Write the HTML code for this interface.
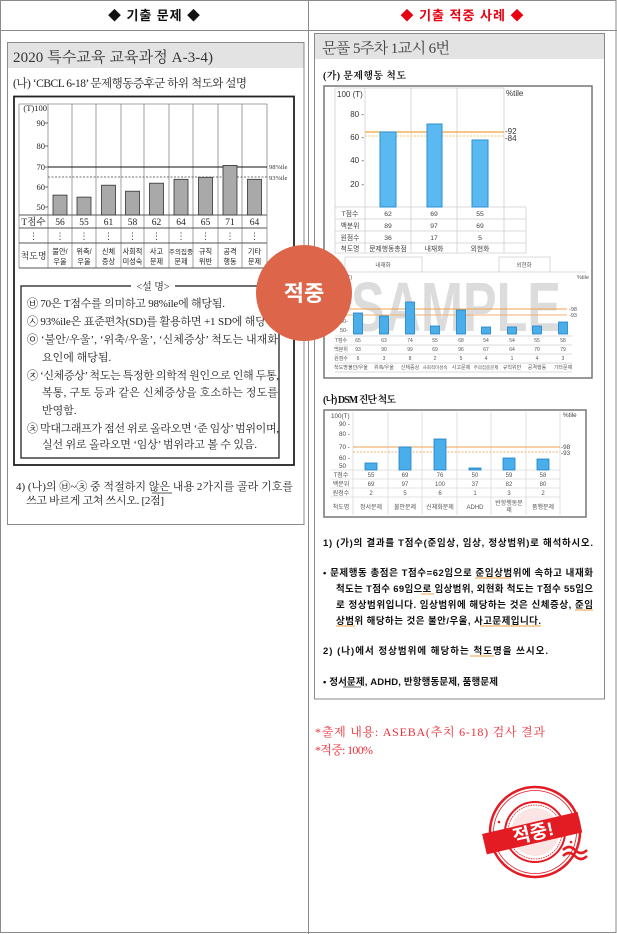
<!DOCTYPE html>
<html><head><meta charset="utf-8">
<style>
html,body{margin:0;padding:0;background:#fff;}
svg{display:block;}
.sf{font-family:"Liberation Serif","Noto Serif CJK SC",serif;}
.ss{font-family:"Liberation Sans","Noto Sans CJK KR",sans-serif;}
.dj{font-family:"DejaVu Sans",sans-serif;}
</style></head><body>
<svg width="617" height="934" viewBox="0 0 617 934" xmlns="http://www.w3.org/2000/svg">
<!-- frame -->
<rect x="0.5" y="0.5" width="615.5" height="932" fill="#fff" stroke="#8a8a8a"/>
<line x1="0" y1="30.5" x2="617" y2="30.5" stroke="#8a8a8a"/>
<line x1="308.5" y1="0" x2="308.5" y2="934" stroke="#8a8a8a"/>
<text x="154" y="20" text-anchor="middle" class="ss" font-size="13" font-weight="bold" fill="#111" textLength="92">◆ 기출 문제 ◆</text>
<text x="462" y="20" text-anchor="middle" class="ss" font-size="13" font-weight="bold" fill="#e60012" textLength="123">◆ 기출 적중 사례 ◆</text>

<!-- LEFT -->
<rect x="7.5" y="42.5" width="296.5" height="482" fill="none" stroke="#8a8a8a"/>
<rect x="8" y="43" width="295.5" height="25" fill="#e3e3e3"/>
<text x="13" y="62" class="sf" font-size="15" fill="#333" textLength="200">2020 특수교육 교육과정 A-3-4)</text>
<text x="13" y="87" class="sf" font-size="11.5" fill="#222" textLength="234">(나) ‘CBCL 6-18’ 문제행동증후군 하위 척도와 설명</text>

<rect x="14" y="96.5" width="280" height="368.5" fill="none" stroke="#222" stroke-width="1.8"/>
<g stroke="#888" stroke-width="0.8">
<line x1="19" y1="104" x2="267" y2="104"/>
<line x1="19" y1="104" x2="19" y2="268"/>
<line x1="48" y1="104" x2="48" y2="268"/>
<line x1="72" y1="104" x2="72" y2="268"/>
<line x1="96" y1="104" x2="96" y2="268"/>
<line x1="121" y1="104" x2="121" y2="268"/>
<line x1="144" y1="104" x2="144" y2="268"/>
<line x1="169" y1="104" x2="169" y2="268"/>
<line x1="193" y1="104" x2="193" y2="268"/>
<line x1="218" y1="104" x2="218" y2="268"/>
<line x1="242" y1="104" x2="242" y2="268"/>
<line x1="267" y1="104" x2="267" y2="268"/>
</g>
<g stroke="#555" stroke-width="0.9">
<line x1="19" y1="215" x2="267" y2="215"/>
<line x1="19" y1="228" x2="267" y2="228"/>
<line x1="19" y1="243" x2="267" y2="243"/>
<line x1="19" y1="268" x2="267" y2="268"/>
</g>
<g class="sf" font-size="8.5" fill="#222" text-anchor="end">
<text x="47" y="111">(T)100</text>
<text x="45" y="126">90</text>
<text x="45" y="149">80</text>
<text x="45" y="170">70</text>
<text x="45" y="190">60</text>
<text x="45" y="210">50</text>
</g>
<g stroke="#333" stroke-width="0.7">
<line x1="45" y1="123" x2="48" y2="123"/><line x1="45" y1="146" x2="48" y2="146"/>
<line x1="45" y1="167" x2="48" y2="167"/><line x1="45" y1="187" x2="48" y2="187"/>
<line x1="45" y1="207" x2="48" y2="207"/>
</g>
<line x1="48" y1="167" x2="267" y2="167" stroke="#111" stroke-width="1"/>
<line x1="48" y1="177" x2="267" y2="177" stroke="#444" stroke-width="0.8" stroke-dasharray="2,1.5"/>
<text x="269" y="169" class="sf" font-size="6.5" fill="#333">98%ile</text>
<text x="269" y="180" class="sf" font-size="6.5" fill="#333">93%ile</text>
<g fill="#a9a9a9" stroke="#333" stroke-width="0.8">
<rect x="53" y="195.1" width="14" height="19.9"/>
<rect x="77" y="197.1" width="14" height="17.9"/>
<rect x="101.5" y="185.2" width="14" height="29.8"/>
<rect x="125.5" y="191.2" width="14" height="23.8"/>
<rect x="149.5" y="183.2" width="14" height="31.8"/>
<rect x="174" y="179.3" width="14" height="35.7"/>
<rect x="198.5" y="177.3" width="14" height="37.7"/>
<rect x="223" y="165.4" width="14" height="49.6"/>
<rect x="247.5" y="179.3" width="14" height="35.7"/>
</g>
<g class="sf" font-size="9.5" fill="#222" text-anchor="middle">
<text x="33.5" y="225">T점수</text>
<text x="60" y="225">56</text><text x="84" y="225">55</text><text x="108.5" y="225">61</text>
<text x="132.5" y="225">58</text><text x="156.5" y="225">62</text><text x="181" y="225">64</text>
<text x="205.5" y="225">65</text><text x="230" y="225">71</text><text x="254.5" y="225">64</text>
</g>
<g class="dj" font-size="9" fill="#333" text-anchor="middle">
<text x="33.5" y="239">⋮</text><text x="60" y="239">⋮</text><text x="84" y="239">⋮</text><text x="108.5" y="239">⋮</text>
<text x="132.5" y="239">⋮</text><text x="156.5" y="239">⋮</text><text x="181" y="239">⋮</text>
<text x="205.5" y="239">⋮</text><text x="230" y="239">⋮</text><text x="254.5" y="239">⋮</text>
</g>
<g class="ss" font-size="7.2" fill="#222" text-anchor="middle">
<text x="33.5" y="259" font-size="9" class="sf">척도명</text>
<text x="60" y="254">불안/</text><text x="60" y="264">우울</text>
<text x="84" y="254">위축/</text><text x="84" y="264">우울</text>
<text x="108.5" y="254">신체</text><text x="108.5" y="264">증상</text>
<text x="132.5" y="254">사회적</text><text x="132.5" y="264">미성숙</text>
<text x="156.5" y="254">사고</text><text x="156.5" y="264">문제</text>
<text x="181" y="254" font-size="6.5">주의집중</text><text x="181" y="264">문제</text>
<text x="205.5" y="254">규칙</text><text x="205.5" y="264">위반</text>
<text x="230" y="254">공격</text><text x="230" y="264">행동</text>
<text x="254.5" y="254">기타</text><text x="254.5" y="264">문제</text>
</g>

<!-- explanation box -->
<rect x="21" y="286" width="258" height="172" fill="none" stroke="#222" stroke-width="1.3"/>
<rect x="131" y="280" width="44" height="12" fill="#fff"/>
<text x="153" y="290" text-anchor="middle" class="sf" font-size="10" fill="#222">&lt;설 명&gt;</text>
<g class="sf" font-size="11" fill="#222">
<text x="27" y="307" textLength="198">㉥ 70은 T점수를 의미하고 98%ile에 해당됨.</text>
<text x="27" y="325" textLength="252">㉦ 93%ile은 표준편차(SD)를 활용하면 +1 SD에 해당됨.</text>
<text x="27" y="343" textLength="251">㉧ ‘불안/우울’, ‘위축/우울’, ‘신체증상’ 척도는 내재화</text>
<text x="42" y="361">요인에 해당됨.</text>
<text x="27" y="379" textLength="252">㉨ ‘신체증상’ 척도는 특정한 의학적 원인으로 인해 두통,</text>
<text x="42" y="396" textLength="236">복통, 구토 등과 같은 신체증상을 호소하는 정도를</text>
<text x="42" y="414">반영함.</text>
<text x="27" y="432" textLength="252">㉩ 막대그래프가 점선 위로 올라오면 ‘준 임상’ 범위이며,</text>
<text x="42" y="448" textLength="215">실선 위로 올라오면 ‘임상’ 범위라고 볼 수 있음.</text>
</g>
<g class="sf" font-size="11" fill="#222">
<text x="16" y="490" textLength="277">4) (나)의 ㉥~㉩ 중 적절하지 않은 내용 2가지를 골라 기호를</text>
<text x="26" y="504" textLength="138">쓰고 바르게 고쳐 쓰시오. [2점]</text>
</g>
<line x1="152" y1="493" x2="172" y2="493" stroke="#222" stroke-width="0.8"/>

<!-- RIGHT -->
<rect x="314.5" y="33.5" width="290" height="665.5" fill="none" stroke="#8a8a8a"/>
<rect x="315" y="34" width="289" height="25" fill="#e3e3e3"/>
<text x="322" y="53" class="sf" font-size="15" fill="#444" textLength="128">문풀 5주차 1교시 6번</text>
<text x="323" y="79" class="sf" font-size="10" font-weight="bold" fill="#111" textLength="83">(가) 문제행동 척도</text>

<rect x="324" y="86" width="268" height="292" fill="#fff" stroke="#777" stroke-width="1.5"/>
<!-- chart1 grid -->
<g stroke="#cfcfcf" stroke-width="0.8">
<line x1="335" y1="88" x2="504" y2="88"/>
<line x1="335" y1="88" x2="335" y2="253"/>
<line x1="365" y1="88" x2="365" y2="253"/>
<line x1="411" y1="88" x2="411" y2="253"/>
<line x1="457" y1="88" x2="457" y2="253"/>
<line x1="504" y1="88" x2="504" y2="253"/>
<line x1="526" y1="207" x2="526" y2="253"/>
<line x1="335" y1="207" x2="526" y2="207"/>
<line x1="335" y1="219" x2="526" y2="219"/>
<line x1="335" y1="231" x2="526" y2="231"/>
<line x1="335" y1="243" x2="526" y2="243"/>
<line x1="335" y1="253" x2="526" y2="253"/>
</g>
<g class="ss" font-size="8" fill="#333">
<text x="337" y="97">100 (T)</text>
<text x="506" y="96">%tile</text>
<text x="364" y="117" text-anchor="end">80 -</text>
<text x="364" y="140" text-anchor="end">60 -</text>
<text x="364" y="163" text-anchor="end">40 -</text>
<text x="364" y="187" text-anchor="end">20 -</text>
<text x="505" y="134">-92</text>
<text x="505" y="141">-84</text>
</g>
<line x1="365" y1="132" x2="504" y2="132" stroke="#f2a33a" stroke-width="1.2"/>
<line x1="365" y1="136" x2="504" y2="136" stroke="#f5c56a" stroke-width="1" stroke-dasharray="2,1.5"/>
<g fill="#5ab9f0" stroke="#2a8fd2" stroke-width="1">
<rect x="380" y="132" width="16" height="75"/>
<rect x="427" y="124" width="15" height="83"/>
<rect x="472" y="140" width="16" height="67"/>
</g>
<g class="ss" font-size="6.8" fill="#444" text-anchor="middle">
<text x="350" y="216">T점수</text><text x="388" y="216">62</text><text x="434" y="216">69</text><text x="480" y="216">55</text>
<text x="350" y="228">백분위</text><text x="388" y="228">89</text><text x="434" y="228">97</text><text x="480" y="228">69</text>
<text x="350" y="240">원점수</text><text x="388" y="240">36</text><text x="434" y="240">17</text><text x="480" y="240">5</text>
<text x="350" y="251">척도명</text><text x="388" y="251">문제행동총점</text><text x="434" y="251">내재화</text><text x="480" y="251">외현화</text>
</g>

<!-- chart2 -->
<text x="351" y="331" class="ss" font-size="70" font-weight="bold" fill="#dcdcdc" textLength="210" lengthAdjust="spacingAndGlyphs">SAMPLE</text>
<g stroke="#cfcfcf" stroke-width="0.8" fill="none">
<line x1="330" y1="272" x2="586" y2="272"/>
<path d="M345 272 V257 H422 V272"/>
<path d="M499 272 V257 H550 V272"/>
<line x1="335" y1="336" x2="572" y2="336"/>
<line x1="335" y1="345" x2="572" y2="345"/>
<line x1="335" y1="354" x2="572" y2="354"/>
<line x1="335" y1="363" x2="572" y2="363"/>
<line x1="335" y1="372" x2="572" y2="372"/>
</g>
<g class="ss" font-size="5.5" fill="#555" text-anchor="middle">
<text x="383" y="267">내재화</text><text x="524" y="267">외현화</text>
</g>
<g class="ss" font-size="5.5" fill="#555">
<text x="336" y="279">100(T)</text>
<text x="340" y="286">90-</text><text x="340" y="299">80-</text><text x="340" y="312">70-</text>
<text x="340" y="323">60-</text><text x="340" y="332">50-</text>
<text x="577" y="279">%tile</text>
<text x="569" y="311">-98</text><text x="569" y="317">-93</text>
</g>
<line x1="341" y1="309" x2="567" y2="309" stroke="#f0a050" stroke-width="1.1"/>
<line x1="341" y1="315" x2="567" y2="315" stroke="#f2b070" stroke-width="1"/>
<g fill="#4aaeea" stroke="#1f82c6" stroke-width="0.8">
<rect x="353.5" y="313" width="9" height="21"/>
<rect x="379.5" y="316" width="9" height="18"/>
<rect x="405.5" y="302" width="9" height="32"/>
<rect x="430.5" y="326" width="9" height="8"/>
<rect x="456.5" y="310" width="9" height="24"/>
<rect x="481.5" y="327" width="9" height="7"/>
<rect x="507.5" y="327" width="9" height="7"/>
<rect x="532.5" y="326" width="9" height="8"/>
<rect x="558.5" y="322" width="9" height="12"/>
</g>
<g class="ss" font-size="5" fill="#555" text-anchor="middle">
<text x="341" y="342">T점수</text><text x="341" y="351">백분위</text><text x="341" y="360">원점수</text><text x="341" y="369">척도명</text>
<text x="358" y="342">65</text><text x="384" y="342">63</text><text x="410" y="342">74</text><text x="435" y="342">55</text><text x="461" y="342">68</text><text x="486" y="342">54</text><text x="512" y="342">54</text><text x="537" y="342">55</text><text x="563" y="342">58</text>
<text x="358" y="351">93</text><text x="384" y="351">90</text><text x="410" y="351">99</text><text x="435" y="351">69</text><text x="461" y="351">96</text><text x="486" y="351">67</text><text x="512" y="351">64</text><text x="537" y="351">70</text><text x="563" y="351">79</text>
<text x="358" y="360">6</text><text x="384" y="360">3</text><text x="410" y="360">8</text><text x="435" y="360">2</text><text x="461" y="360">5</text><text x="486" y="360">4</text><text x="512" y="360">1</text><text x="537" y="360">4</text><text x="563" y="360">3</text>
<text x="358" y="369">불안/우울</text><text x="384" y="369">위축/우울</text><text x="410" y="369">신체증상</text><text x="435" y="369" font-size="4.5">사회적미성숙</text><text x="461" y="369">사고문제</text><text x="486" y="369" font-size="4.5">주의집중문제</text><text x="512" y="369">규칙위반</text><text x="537" y="369">공격행동</text><text x="563" y="369">기타문제</text>
</g>

<!-- chart3 -->
<text x="323" y="403" class="sf" font-size="10" font-weight="bold" fill="#111" textLength="73">(나) DSM 진단 척도</text>
<rect x="324" y="410" width="262" height="107" fill="#fff" stroke="#777" stroke-width="1.5"/>
<g stroke="#dadada" stroke-width="0.8">
<line x1="353" y1="412" x2="353" y2="515"/>
<line x1="388" y1="412" x2="388" y2="515"/>
<line x1="422" y1="412" x2="422" y2="515"/>
<line x1="457" y1="412" x2="457" y2="515"/>
<line x1="491" y1="412" x2="491" y2="515"/>
<line x1="526" y1="412" x2="526" y2="515"/>
<line x1="560" y1="412" x2="560" y2="515"/>
<line x1="330" y1="470" x2="560" y2="470"/>
<line x1="330" y1="479" x2="560" y2="479"/>
<line x1="330" y1="488" x2="560" y2="488"/>
<line x1="330" y1="497" x2="560" y2="497"/>
</g>
<g class="ss" font-size="6.3" fill="#444">
<text x="331" y="418">100(T)</text>
<text x="339" y="426">90 -</text><text x="339" y="436">80 -</text><text x="339" y="449">70 -</text>
<text x="339" y="460">60 -</text><text x="339" y="468">50</text>
<text x="563" y="417">%tile</text>
<text x="561" y="449">-98</text><text x="561" y="455">-93</text>
</g>
<line x1="353" y1="447" x2="560" y2="447" stroke="#f0a050" stroke-width="1.1"/>
<line x1="353" y1="452" x2="560" y2="452" stroke="#f2b070" stroke-width="1" stroke-dasharray="2,1.5"/>
<g fill="#4aaeea" stroke="#1f82c6" stroke-width="0.8">
<rect x="365" y="463" width="12" height="7"/>
<rect x="399" y="447" width="12" height="23"/>
<rect x="434" y="439" width="12" height="31"/>
<rect x="469" y="468" width="12" height="2"/>
<rect x="503" y="458" width="12" height="12"/>
<rect x="537" y="459" width="12" height="11"/>
</g>
<g class="ss" font-size="6" fill="#555" text-anchor="middle">
<text x="341" y="477">T점수</text><text x="341" y="486">백분위</text><text x="341" y="495">원점수</text><text x="341" y="509">척도명</text>
<text x="371" y="477">55</text><text x="405" y="477">69</text><text x="440" y="477">76</text><text x="475" y="477">50</text><text x="509" y="477">59</text><text x="543" y="477">58</text>
<text x="371" y="486">69</text><text x="405" y="486">97</text><text x="440" y="486">100</text><text x="475" y="486">37</text><text x="509" y="486">82</text><text x="543" y="486">80</text>
<text x="371" y="495">2</text><text x="405" y="495">5</text><text x="440" y="495">6</text><text x="475" y="495">1</text><text x="509" y="495">3</text><text x="543" y="495">2</text>
<text x="371" y="509">정서문제</text><text x="405" y="509">불안문제</text><text x="440" y="509">신체화문제</text><text x="475" y="509">ADHD</text><text x="509" y="505">반항행동문</text><text x="509" y="512">제</text><text x="543" y="509">품행문제</text>
</g>

<!-- answer text -->
<g class="ss" font-size="9.5" font-weight="bold" fill="#111">
<text x="323" y="546" textLength="270">1) (가)의 결과를 T점수(준임상, 임상, 정상범위)로 해석하시오.</text>
<text x="323" y="576" textLength="270">• 문제행동 총점은 T점수=62임으로 준임상범위에 속하고 내재화</text>
<text x="336" y="592" textLength="257">척도는 T점수 69임으로 임상범위, 외현화 척도는 T점수 55임으</text>
<text x="336" y="608" textLength="257">로 정상범위입니다. 임상범위에 해당하는 것은 신체증상, 준임</text>
<text x="336" y="624" textLength="205">상범위 해당하는 것은 불안/우울, 사고문제입니다.</text>
<text x="323" y="654" textLength="225">2) (나)에서 정상범위에 해당하는 척도명을 쓰시오.</text>
<text x="323" y="685" textLength="175">• 정서문제, ADHD, 반항행동문제, 품행문제</text>
</g>
<g stroke="#f0a040" stroke-width="0.9">
<line x1="475" y1="578" x2="511" y2="578"/>
<line x1="421" y1="594" x2="434" y2="594"/>
<line x1="575" y1="610" x2="593" y2="610"/>
<line x1="336" y1="626" x2="355" y2="626"/>
<line x1="480" y1="626" x2="541" y2="626"/>
<line x1="470" y1="656" x2="494" y2="656"/>
</g>
<line x1="343" y1="687" x2="361" y2="687" stroke="#333" stroke-width="0.7"/>

<g class="sf" font-size="12" fill="#e8323a">
<text x="315" y="736" textLength="230">*출제 내용: ASEBA(추치 6-18) 검사 결과</text>
<text x="315" y="754" textLength="58">*적중: 100%</text>
</g>

<!-- stamp -->
<g transform="translate(535,832)">
<circle r="45" fill="none" stroke="#e31b23" stroke-width="2.5"/>
<circle r="41.5" fill="none" stroke="#e31b23" stroke-width="0.8"/>
<circle r="30" fill="none" stroke="#e31b23" stroke-width="2"/>
<circle r="27" fill="none" stroke="#e31b23" stroke-width="0.8" stroke-dasharray="1.5,1"/>
<circle r="24" fill="#fbe4e4"/>
<circle cx="-36" cy="-10" r="1.3" fill="#e31b23"/>
<circle cx="36" cy="10" r="1.3" fill="#e31b23"/>
<circle cx="-34" cy="14" r="1.3" fill="#e31b23"/>
<circle cx="34" cy="-14" r="1.3" fill="#e31b23"/>
<g transform="rotate(-13)">
<rect x="-52" y="-10" width="98" height="21" fill="#e31b23"/>
<text x="-2" y="7" text-anchor="middle" class="ss" font-size="19" font-weight="bold" fill="#fff">적중!</text>
</g>
<path d="M28 18 q6 -6 12 0 t12 0 M28 24 q6 -6 12 0 t12 0" fill="none" stroke="#e31b23" stroke-width="2.5"/>
</g>

<!-- orange circle -->
<circle cx="304" cy="293" r="48" fill="#dd664a"/>
<text x="304" y="301" text-anchor="middle" class="ss" font-size="22" font-weight="bold" fill="#fff">적중</text>
</svg>
</body></html>
